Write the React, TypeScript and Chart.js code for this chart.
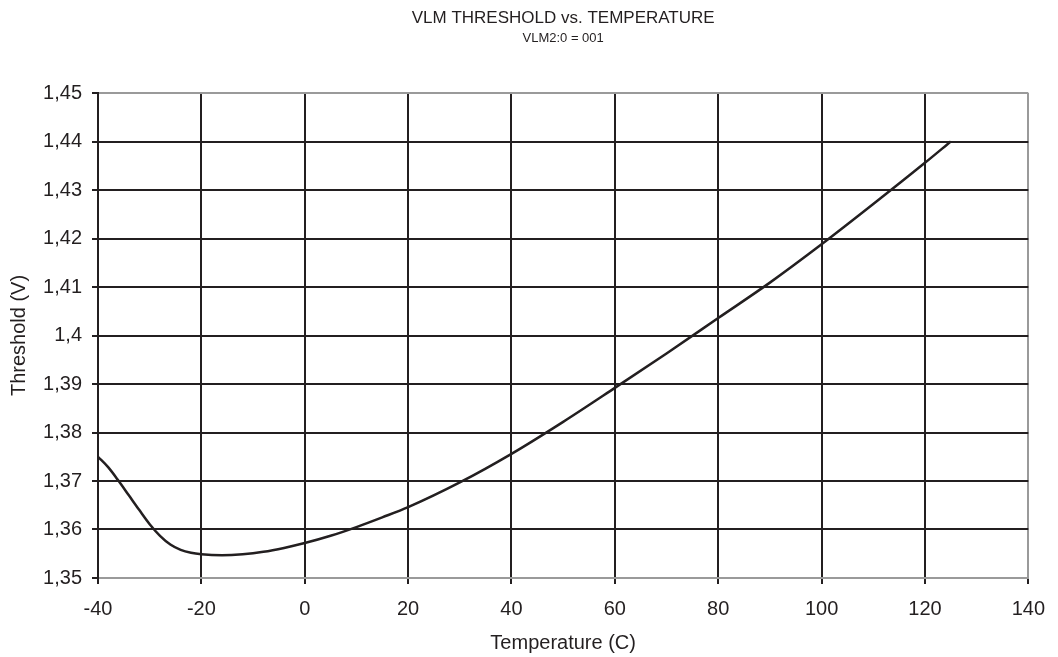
import React, { useEffect, useRef } from "react";
import { Chart, registerables } from "chart.js";

Chart.register(...registerables);

// Temperature (C)
const temperatures = [
  -40, -38, -36, -34, -32, -30, -28, -26, -24, -22, -20, -16, -12, -8, -4, 0, 5, 10, 15, 20,
  30, 40, 50, 60, 70, 80, 90, 100, 110, 120, 125,
];
// Threshold (V)
const thresholds = [
  1.375, 1.3728, 1.37, 1.367, 1.364, 1.3611, 1.3587, 1.3569, 1.3558, 1.3552, 1.3549, 1.3547,
  1.3549, 1.3554, 1.3562, 1.3572, 1.3587, 1.3605, 1.3625, 1.3646, 1.3697, 1.3756, 1.3822,
  1.3892, 1.3963, 1.4036, 1.4109, 1.4188, 1.4271, 1.4356, 1.44,
];

const xMin = -40;
const xMax = 140;
const xStep = 20;
const yMin = 1.35;
const yMax = 1.45;
const yStep = 0.01;

const chartTitle = "VLM THRESHOLD vs. TEMPERATURE";
const chartSubtitle = "VLM2:0 = 001";
const xTitle = "Temperature (C)";
const yTitle = "Threshold (V)";

const FONT = 'Arial, "Liberation Sans", sans-serif';
const DARK = "#231f20";
const GRAY = "#9a9a9a";

export default function App() {
  const ref = useRef<HTMLCanvasElement | null>(null);

  useEffect(() => {
    document.body.style.margin = "0";
    const canvas = ref.current;
    if (!canvas) return;
    const chart = new Chart(canvas, {
      type: "line",
      data: {
        datasets: [
          {
            data: temperatures.map((t, i) => ({ x: t, y: thresholds[i] })),
            borderColor: DARK,
            borderWidth: 2.5,
            pointRadius: 0,
            cubicInterpolationMode: "monotone",
            fill: false,
          },
        ],
      },
      options: {
        animation: false,
        responsive: false,
        devicePixelRatio: 1,
        layout: { padding: { left: 0, right: 29, top: 0, bottom: 0 } },
        plugins: {
          legend: { display: false },
          tooltip: { enabled: false },
          title: {
            display: true,
            fullSize: false,
            text: chartTitle,
            color: DARK,
            font: { family: FONT, size: 17, weight: "normal" },
            padding: { top: 8, bottom: 2 },
          },
          subtitle: {
            display: true,
            fullSize: false,
            text: chartSubtitle,
            color: DARK,
            font: { family: FONT, size: 13, weight: "normal" },
            padding: { top: 0, bottom: 47 },
          },
        },
        scales: {
          x: {
            type: "linear",
            min: xMin,
            max: xMax,
            afterFit: (s: any) => {
              s.height = 79;
            },
            ticks: {
              stepSize: xStep,
              color: DARK,
              font: { family: FONT, size: 20 },
              padding: 13,
              maxRotation: 0,
            },
            grid: {
              color: (ctx: any) =>
                Math.abs(ctx.tick.value - xMax) < 1e-6 ? GRAY : DARK,
              lineWidth: 2,
              tickLength: 6,
              tickColor: DARK,
            },
            border: { color: GRAY, width: 2 },
            title: {
              display: true,
              text: xTitle,
              color: DARK,
              font: { family: FONT, size: 20 },
              padding: { top: 0, bottom: 2 },
            },
          },
          y: {
            type: "linear",
            min: yMin,
            max: yMax,
            afterFit: (s: any) => {
              s.width = 98;
            },
            ticks: {
              stepSize: yStep,
              color: DARK,
              font: { family: FONT, size: 20 },
              padding: 10,
              callback: (v: any) =>
                Number(v).toFixed(2).replace(/0$/, "").replace(".", ","),
            },
            grid: {
              color: (ctx: any) =>
                Math.abs(ctx.tick.value - yMax) < 1e-6 ||
                Math.abs(ctx.tick.value - yMin) < 1e-6
                  ? GRAY
                  : DARK,
              lineWidth: 2,
              tickLength: 6,
              tickColor: DARK,
            },
            border: { color: DARK, width: 2 },
            title: {
              display: true,
              text: yTitle,
              color: DARK,
              font: { family: FONT, size: 20 },
              padding: { top: 7, bottom: 0 },
            },
          },
        },
      },
    });
    return () => chart.destroy();
  }, []);

  return (
    <canvas
      ref={ref}
      width={1058}
      height={657}
      style={{ display: "block", width: 1058, height: 657 }}
    />
  );
}
